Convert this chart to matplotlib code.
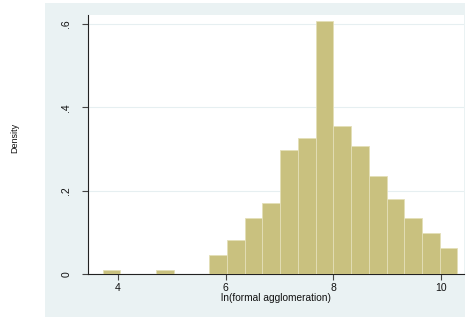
import matplotlib
matplotlib.use("Agg")
import matplotlib.pyplot as plt
import matplotlib.patches as mpatches
import numpy as np

# histogram of ln(formal agglomeration), 20 bins
bin_start = 3.717
bin_width = 0.3296
density = [0.010, 0.0, 0.0, 0.010, 0.0, 0.0, 0.046, 0.082, 0.135, 0.171,
           0.298, 0.327, 0.606, 0.354, 0.308, 0.236, 0.181, 0.136, 0.100, 0.063]
xticks = [4, 6, 8, 10]
yticks = [0, 0.2, 0.4, 0.6]
ytick_labels = ["0", ".2", ".4", ".6"]

plt.rcParams["font.family"] = ["Liberation Sans", "DejaVu Sans"]

W, H = 466, 320
fig = plt.figure(figsize=(W / 100, H / 100), dpi=100)
fig.patch.set_facecolor("white")

# light graph region behind the plot
bg = mpatches.Rectangle((45 / W, 1 - 317 / H), 420 / W, 314 / H,
                        transform=fig.transFigure, facecolor="#eaf2f3",
                        edgecolor="none", zorder=-10)
fig.patches.append(bg)

ax = fig.add_axes([88 / W, 1 - 274.3 / H, 376 / W, 259.3 / H])
ax.set_zorder(5)
ax.set_facecolor("white")

lefts = bin_start + bin_width * np.arange(len(density))
ax.bar(lefts, density, width=bin_width, align="edge", color="#c9c17f",
       edgecolor="#e4dfb8", linewidth=0.6, zorder=3)

ax.set_xlim(3.444, 10.43)
ax.set_ylim(0, 0.621)
ax.set_xticks(xticks)
ax.set_xticklabels([str(t) for t in xticks])
ax.set_yticks(yticks)
ax.set_yticklabels(ytick_labels, rotation=90, va="center")
ax.grid(axis="y", color="#e6eff1", linewidth=0.8, zorder=1)
ax.set_axisbelow(True)

for side in ("top", "right"):
    ax.spines[side].set_visible(False)
for side in ("left", "bottom"):
    ax.spines[side].set_color("#222222")
    ax.spines[side].set_linewidth(0.8)
ax.tick_params(length=4, width=0.8, color="#444444", labelsize=7.5,
               labelcolor="#111111", pad=2)
ax.tick_params(axis="y", pad=8)

ax.set_xlabel("ln(formal agglomeration)", fontsize=7.3, color="#111111",
              labelpad=0)
fig.text(15 / W, 1 - 138 / H, "Density", rotation=90, fontsize=6.5,
         ha="center", va="center", color="#111111")

fig.savefig("out.png", dpi=100, facecolor=fig.get_facecolor())
